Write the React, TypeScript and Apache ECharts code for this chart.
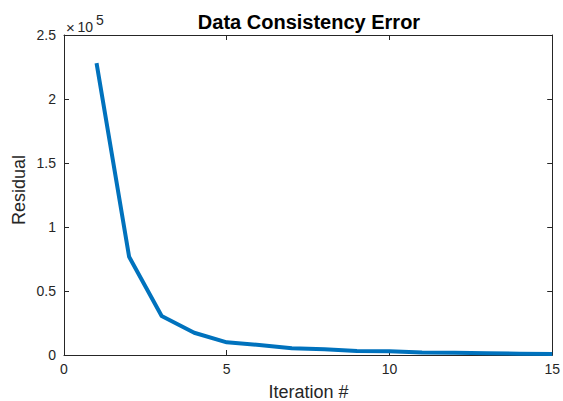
import React, { useEffect, useRef } from "react";
import * as echarts from "echarts";

const iterations = [1, 2, 3, 4, 5, 6, 7, 8, 9, 10, 11, 12, 13, 14, 15];
const residuals = [228000, 76800, 30500, 17400, 9900, 7800, 5200, 4500, 3100, 2900, 2000, 1800, 1300, 1000, 800];
const xTicks = [0, 5, 10, 15];
const yTickLabels = ["0", "0.5", "1", "1.5", "2", "2.5"];

const FONT = "'Liberation Sans', Arial, Helvetica, sans-serif";
const AXIS_COLOR = "#262626";

export default function App() {
  const ref = useRef<HTMLDivElement>(null);
  useEffect(() => {
    if (!ref.current) return;
    const chart = echarts.init(ref.current, undefined, { renderer: "svg" });
    const left = 64, right = 10, top = 35, bottom = 46;
    const axisCommon = {
      axisLine: { show: true, onZero: false, lineStyle: { color: AXIS_COLOR, width: 1 } },
      axisTick: { show: true, inside: true, length: 5, lineStyle: { color: AXIS_COLOR, width: 1 } },
      splitLine: { show: false },
    };
    chart.setOption({
      animation: false,
      backgroundColor: "#ffffff",
      grid: { left, right, top, bottom },
      xAxis: [
        {
          type: "value", min: 0, max: 15, interval: 5, position: "bottom",
          ...axisCommon,
          axisLabel: { color: AXIS_COLOR, fontSize: 14, fontFamily: FONT, margin: 7,
            formatter: (v: number) => (xTicks.includes(v) ? String(v) : "") },
        },
        {
          type: "value", min: 0, max: 15, interval: 5, position: "top",
          ...axisCommon, axisLabel: { show: false },
        },
      ],
      yAxis: [
        {
          type: "value", min: 0, max: 250000, interval: 50000, position: "left",
          ...axisCommon,
          axisLabel: { color: AXIS_COLOR, fontSize: 14, fontFamily: FONT, margin: 8,
            formatter: (v: number) => yTickLabels[Math.round(v / 50000)] ?? "" },
        },
        {
          type: "value", min: 0, max: 250000, interval: 50000, position: "right",
          ...axisCommon, axisLabel: { show: false },
        },
      ],
      series: [
        {
          type: "line",
          xAxisIndex: 0,
          yAxisIndex: 0,
          data: iterations.map((x, i) => [x, residuals[i]]),
          showSymbol: false,
          symbol: "none",
          lineStyle: { color: "#0072BD", width: 4, join: "round" },
          itemStyle: { color: "#0072BD" },
        },
      ],
      graphic: [
        {
          type: "text",
          style: { text: "Data Consistency Error", x: 309, y: 22, align: "center", verticalAlign: "middle",
            font: `bold 20px ${FONT}`, fill: "#000" },
        },
        {
          type: "text",
          style: { text: "Iteration #", x: 308.5, y: 392, align: "center", verticalAlign: "middle",
            font: `18px ${FONT}`, fill: AXIS_COLOR },
        },
        {
          type: "text", x: 18.5, y: 190, rotation: Math.PI / 2,
          style: { text: "Residual", x: 0, y: 0, align: "center", verticalAlign: "middle",
            font: `18px ${FONT}`, fill: AXIS_COLOR },
        },
        {
          type: "text",
          style: { text: "×", x: 66, y: 27, align: "left", verticalAlign: "middle",
            font: `15px ${FONT}`, fill: AXIS_COLOR },
        },
        {
          type: "text",
          style: { text: "10", x: 77.5, y: 27, align: "left", verticalAlign: "middle",
            font: `14px ${FONT}`, fill: AXIS_COLOR },
        },
        {
          type: "text",
          style: { text: "5", x: 96, y: 19.5, align: "left", verticalAlign: "middle",
            font: `14px ${FONT}`, fill: AXIS_COLOR },
        },
      ],
    });
    return () => chart.dispose();
  }, []);
  return <div ref={ref} style={{ position: "fixed", left: 0, top: 0, width: 563, height: 401 }} />;
}
